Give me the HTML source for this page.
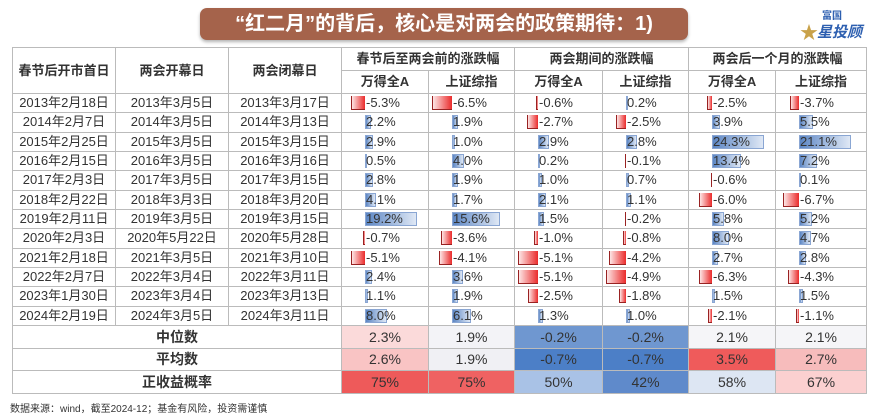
<!DOCTYPE html>
<html><head><meta charset="utf-8">
<style>
body{margin:0;width:872px;height:414px;background:#fff;position:relative;overflow:hidden;font-family:"Liberation Sans","Noto Sans CJK SC",sans-serif;}
#title{position:absolute;left:200px;top:8px;width:488px;height:32px;background:#a5634b;border-radius:7px;color:#fff;font-weight:bold;font-size:20px;line-height:32px;text-align:center;box-shadow:0 2px 3px rgba(0,0,0,.3);}
#logo{position:absolute;left:800px;top:5px;width:70px;height:40px;color:#2d5fb0;font-weight:bold;}
table{position:absolute;left:12px;top:47px;border-collapse:collapse;table-layout:fixed;width:854px;font-size:13px;color:#333;}
td{border:1px solid #bbb;padding:0;text-align:center;white-space:nowrap;position:relative;overflow:hidden;}
.h td{font-weight:bold;height:22px;line-height:16px;}
.d td{height:18.33px;line-height:14px;}
.s td{height:21.7px;font-size:14px;line-height:16px;}
.bar{position:absolute;top:2px;height:14px;}
.pos{background:linear-gradient(90deg,#5c86c4,#dfe8f5);border:1px solid #8aa6d3;box-sizing:border-box;}
.neg{background:linear-gradient(90deg,#fde5e5,#ea2b2b);border-left:1px solid #922;border-bottom:1px solid #922;box-sizing:border-box;}
.v{position:absolute;top:2px;font-size:13px;line-height:14px;}
#foot{position:absolute;left:10px;top:400px;font-size:10px;color:#333;}
</style></head><body>
<div id="title">“红二月”的背后，核心是对两会的政策期待：1)</div>
<div id="logo"><span style="position:absolute;left:22px;top:2px;font-size:10px;">富国</span><span style="position:absolute;left:0px;top:14px;font-size:18px;color:#c9a24a;">★</span><span style="position:absolute;left:17px;top:16px;font-size:15px;font-style:italic;">星投顾</span></div>
<table id="tbl">
<colgroup><col style="width:103px"><col style="width:113px"><col style="width:113px"><col style="width:87px"><col style="width:86px"><col style="width:88px"><col style="width:86px"><col style="width:87px"><col style="width:91px"></colgroup>
<tr class="h"><td rowspan="2">春节后开市首日</td><td rowspan="2">两会开幕日</td><td rowspan="2">两会闭幕日</td><td colspan="2">春节后至两会前的涨跌幅</td><td colspan="2">两会期间的涨跌幅</td><td colspan="2">两会后一个月的涨跌幅</td></tr>
<tr class="h"><td>万得全A</td><td>上证综指</td><td>万得全A</td><td>上证综指</td><td>万得全A</td><td>上证综指</td></tr>
</table>
<div id="foot">数据来源：wind，截至2024-12；基金有风险，投资需谨慎</div>
<script>
const startDates=["2013年2月18日","2014年2月7日","2015年2月25日","2016年2月15日","2017年2月3日","2018年2月22日","2019年2月11日","2020年2月3日","2021年2月18日","2022年2月7日","2023年1月30日","2024年2月19日"];
const openDates=["2013年3月5日","2014年3月5日","2015年3月5日","2016年3月5日","2017年3月5日","2018年3月3日","2019年3月5日","2020年5月22日","2021年3月5日","2022年3月4日","2023年3月4日","2024年3月5日"];
const closeDates=["2013年3月17日","2014年3月13日","2015年3月15日","2016年3月16日","2017年3月15日","2018年3月20日","2019年3月15日","2020年5月28日","2021年3月10日","2022年3月11日","2023年3月13日","2024年3月11日"];
const preWindA=[-5.3,2.2,2.9,0.5,2.8,4.1,19.2,-0.7,-5.1,2.4,1.1,8.0];
const preSSE=[-6.5,1.9,1.0,4.0,1.9,1.7,15.6,-3.6,-4.1,3.6,1.9,6.1];
const durWindA=[-0.6,-2.7,2.9,0.2,1.0,2.1,1.5,-1.0,-5.1,-5.1,-2.5,1.3];
const durSSE=[0.2,-2.5,2.8,-0.1,0.7,1.1,-0.2,-0.8,-4.2,-4.9,-1.8,1.0];
const postWindA=[-2.5,3.9,24.3,13.4,-0.6,-6.0,5.8,8.0,2.7,-6.3,1.5,-2.1];
const postSSE=[-3.7,5.5,21.1,7.2,0.1,-6.7,5.2,4.7,2.8,-4.3,1.5,-1.1];
const summaryLabels=["中位数","平均数","正收益概率"];
const medianVals=["2.3%","1.9%","-0.2%","-0.2%","2.1%","2.1%"];
const meanVals=["2.6%","1.9%","-0.7%","-0.7%","3.5%","2.7%"];
const probVals=["75%","75%","50%","42%","58%","67%"];
const medianColors=["#fbdada","#f3f3f7","#6f97d0","#6f97d0","#f5f5f8","#f5f5f8"];
const meanColors=["#f9c4c4","#f0f0f4","#4c7fc7","#4c7fc7","#ef5b5b","#f7bcbc"];
const probColors=["#ee5a5a","#ef6262","#a9c2e6","#5f8acb","#dde6f3","#fbd0d0"];
const series=[preWindA,preSSE,durWindA,durSSE,postWindA,postSSE];
const tbl=document.getElementById('tbl');
const scales=series.map(s=>{const mp=Math.max(...s.filter(v=>v>0),0.1);const mn=Math.max(...s.filter(v=>v<0).map(v=>-v),0.1);return Math.min(52/mp,20/mn);});
const AX=23;
for(let i=0;i<startDates.length;i++){
  const tr=document.createElement('tr');tr.className='d';
  
  
  [startDates[i],openDates[i],closeDates[i]].forEach(t=>{const td=document.createElement('td');td.textContent=t;
    
    
    tr.appendChild(td);});
  series.forEach((s,j)=>{
    const v=s[i];const td=document.createElement('td');
    
    
    const w=Math.max(Math.abs(v)*scales[j],1.5);
    const b=document.createElement('div');
    
    
    b.className='bar '+(v>=0?'pos':'neg');
    b.style.width=w+'px';
    b.style.left=(v>=0?AX:AX-w)+'px';
    td.appendChild(b);
    const sp=document.createElement('span');sp.className='v';sp.style.left=(AX+1)+'px';
    
    
    sp.textContent=v.toFixed(1)+'%';td.appendChild(sp);
    tr.appendChild(td);
  });
  tbl.appendChild(tr);
}
const sv=[medianVals,meanVals,probVals],sc=[medianColors,meanColors,probColors];
summaryLabels.forEach((lab,k)=>{
  const tr=document.createElement('tr');tr.className='s';
  
  
  const td=document.createElement('td');td.colSpan=3;td.textContent=lab;td.style.fontWeight='bold';
  
  
  tr.appendChild(td);
  sv[k].forEach((t,j)=>{const c=document.createElement('td');c.textContent=t;c.style.background=sc[k][j];
    
    
    tr.appendChild(c);});
  tbl.appendChild(tr);
});
</script>
</body></html>
